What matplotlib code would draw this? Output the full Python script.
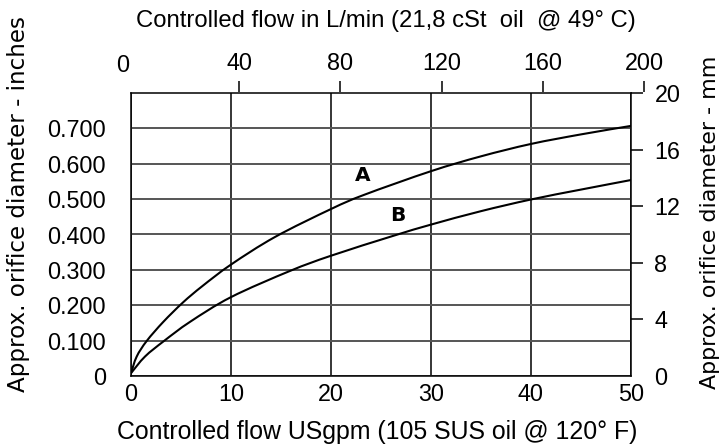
import matplotlib
matplotlib.use("Agg")
import matplotlib.pyplot as plt
from matplotlib.path import Path
from matplotlib.patches import PathPatch
from matplotlib.transforms import offset_copy

plt.rcParams["font.family"] = ["Liberation Sans", "DejaVu Sans"]

# Flow (USgpm) vs approximate orifice diameter (inches) for the two curves
flow_a = [0, 0.57, 1.57, 3.23, 5.2, 7.13, 10, 14.4, 20, 23.3, 30, 35, 40, 45, 50]
dia_a = [0.008, 0.055, 0.099, 0.153, 0.208, 0.254, 0.315, 0.393, 0.472,
         0.512, 0.579, 0.621, 0.656, 0.683, 0.707]

flow_b = [0, 1.4, 3.3, 5.9, 10, 15.9, 20, 26.2, 30, 35, 40, 45, 50]
dia_b = [0.008, 0.055, 0.099, 0.153, 0.223, 0.297, 0.340, 0.396, 0.428,
         0.466, 0.499, 0.527, 0.554]

gpm_ticks = [0, 10, 20, 30, 40, 50]
inch_ticks = [0, 0.1, 0.2, 0.3, 0.4, 0.5, 0.6, 0.7]
inch_labels = ["0", "0.100", "0.200", "0.300", "0.400", "0.500", "0.600", "0.700"]
mm_ticks = [0, 4, 8, 12, 16, 20]
lpm_ticks = [0, 40, 80, 120, 160, 200]

W, H = 723, 444
fig = plt.figure(figsize=(W / 100, H / 100), dpi=100)


def px_rect(x0, y0, x1, y1):
    return [x0 / W, 1 - y1 / H, (x1 - x0) / W, (y1 - y0) / H]


def smooth_path(xs, ys):
    """Catmull-Rom curve through the points, expressed as cubic Bezier segments."""
    pts = list(zip(xs, ys))
    n = len(pts)
    verts = [pts[0]]
    codes = [Path.MOVETO]
    for i in range(n - 1):
        p0 = pts[i - 1] if i > 0 else pts[i]
        p1 = pts[i]
        p2 = pts[i + 1]
        p3 = pts[i + 2] if i + 2 < n else pts[i + 1]
        c1 = (p1[0] + (p2[0] - p0[0]) / 6, p1[1] + (p2[1] - p0[1]) / 6)
        c2 = (p2[0] - (p3[0] - p1[0]) / 6, p2[1] - (p3[1] - p1[1]) / 6)
        verts += [c1, c2, p2]
        codes += [Path.CURVE4] * 3
    return Path(verts, codes)


# main plot box
ax = fig.add_axes(px_rect(131, 93, 631, 376))
ax.set_xlim(0, 50)
ax.set_ylim(0, 0.8)
ax.set_xticks(gpm_ticks, labels=[str(t) for t in gpm_ticks])
ax.set_yticks(inch_ticks, labels=inch_labels)
ax.tick_params(axis="x", length=0, pad=5.3, labelsize=16.8)
ax.tick_params(axis="y", length=0, pad=18, labelsize=16.8)
ax.grid(axis="y", color="#555555", lw=1.4)
ax.grid(axis="x", color="black", lw=1.1)
ax.set_axisbelow(True)
for s in ax.spines.values():
    s.set_linewidth(1.1)
    s.set_color("black")

for xs, ys in ((flow_a, dia_a), (flow_b, dia_b)):
    ax.add_patch(PathPatch(smooth_path(xs, ys), facecolor="none", edgecolor="black",
                           lw=1.5, capstyle="round", zorder=3))

ax.text(23.2, 0.568, "A", fontsize=14.5, fontweight="bold", family="DejaVu Sans",
        ha="center", va="center")
ax.text(26.7, 0.455, "B", fontsize=14.5, fontweight="bold", family="DejaVu Sans",
        ha="center", va="center")

ax.set_xlabel("Controlled flow USgpm (105 SUS oil @ 120\u00b0 F)", fontsize=17.9,
              va="baseline", ha="center")
ax.xaxis.set_label_coords(0.493, -0.2237)
ax.set_ylabel("Approx. orifice diameter - inches", fontsize=16.6, family="DejaVu Sans",
              va="center", ha="center")
ax.yaxis.set_label_coords(-0.224, 0.608)

# right-hand millimetre scale
axr = ax.twinx()
axr.set_ylim(0, 20)
axr.set_yticks(mm_ticks, labels=[str(t) for t in mm_ticks])
axr.tick_params(axis="y", direction="out", length=8.3, width=1.1, pad=8.6,
                labelsize=16.8)
axr.yaxis.get_major_ticks()[0].tick2line.set_visible(False)
for s in axr.spines.values():
    s.set_visible(False)
axr.set_ylabel("Approx. orifice diameter - mm", fontsize=15.9, family="DejaVu Sans",
               va="center", ha="center", rotation=90)
axr.yaxis.set_label_coords(1.158, 0.544)

# top litre-per-minute scale
lpm_per_px = 200 / (644.3 - 137.9)
ax_top = fig.add_axes(px_rect(131, 92, 650, 93))
ax_top.set_xlim((131 - 137.9) * lpm_per_px, (650 - 137.9) * lpm_per_px)
ax_top.patch.set_visible(False)
for s in ax_top.spines.values():
    s.set_visible(False)
ax_top.set_yticks([])
ax_top.xaxis.tick_top()
ax_top.set_xticks(lpm_ticks, labels=[str(t) for t in lpm_ticks])
ax_top.tick_params(axis="x", direction="out", length=8, width=1.1, pad=3.9,
                   labelsize=16.8, top=True, bottom=False,
                   labeltop=True, labelbottom=False)
first = ax_top.xaxis.get_major_ticks()[0]
first.tick2line.set_visible(False)
first.label2.set_visible(False)
zero_trans = offset_copy(ax_top.get_xaxis_transform(), fig=fig, x=-15.4, y=20.3,
                         units="dots")
ax_top.text(0, 1, "0", transform=zero_trans, ha="center", va="baseline",
            fontsize=16.8, clip_on=False)

ax.text(0.509, 1.232, "Controlled flow in L/min (21,8 cSt  oil  @ 49\u00b0 C)",
        transform=ax.transAxes, fontsize=17.2, ha="center", va="baseline")

fig.savefig("out.png", dpi=100)
